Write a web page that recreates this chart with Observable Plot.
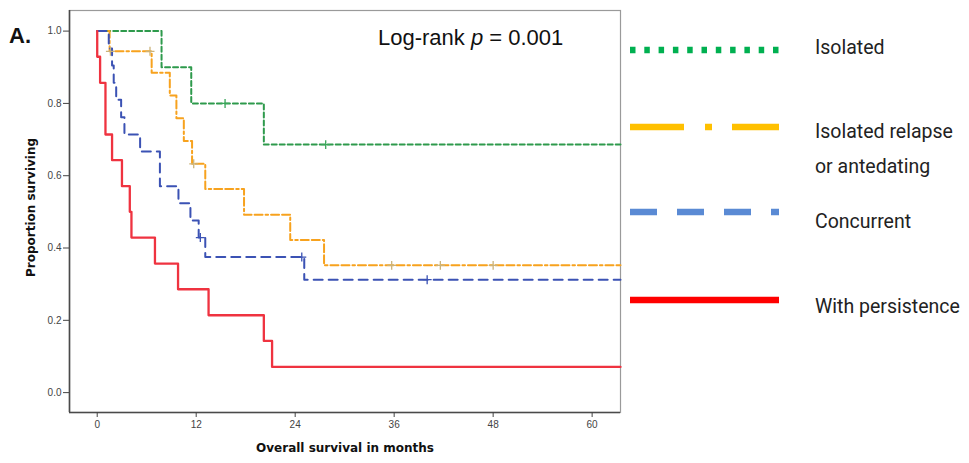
<!DOCTYPE html>
<html><head><meta charset="utf-8">
<script src="https://cdn.jsdelivr.net/npm/d3@7"></script>
<script src="https://cdn.jsdelivr.net/npm/@observablehq/plot@0.6"></script>
<style>
body{margin:0;background:#fff;}
#chart{width:969px;height:463px;}
</style></head><body><div id="chart"></div>
<script>
// ---- data ----
const groupNames = ["Isolated", "Isolated relapse or antedating", "Concurrent", "With persistence"];
const legendText = [["Isolated"], ["Isolated relapse", "or antedating"], ["Concurrent"], ["With persistence"]];

const isolatedTimes = [7.8, 11.4, 20.2];
const isolatedSurv  = [0.900, 0.800, 0.686];
const isolatedCensT = [15.5, 27.7];

const relapseTimes = [1.5, 6.6, 8.8, 9.6, 10.5, 11.5, 13.1, 17.8, 23.4, 27.5];
const relapseSurv  = [0.944, 0.885, 0.822, 0.759, 0.696, 0.633, 0.563, 0.492, 0.422, 0.352];
const relapseCensT = [1.6, 6.4, 11.7, 35.7, 41.6, 48.0];

const concurrentTimes = [1.4, 1.8, 2.0, 2.3, 2.9, 3.3, 5.2, 7.6, 9.85, 11.3, 12.3, 13.1, 25.1];
const concurrentSurv  = [0.952, 0.905, 0.857, 0.810, 0.762, 0.714, 0.667, 0.571, 0.524, 0.476, 0.429, 0.375, 0.3125];
const concurrentCensT = [12.5, 24.8, 40.0];

const persistTimes = [0, 0.35, 1.0, 1.8, 3.0, 3.95, 4.15, 7.0, 9.8, 13.5, 20.2, 21.2];
const persistSurv  = [0.929, 0.857, 0.714, 0.643, 0.571, 0.500, 0.429, 0.357, 0.286, 0.214, 0.143, 0.071];
const persistCensT = [];

const xTicks = [0, 12, 24, 36, 48, 60];
const yTicks = [0, 0.2, 0.4, 0.6, 0.8, 1.0];
const xDomain = [-3.36, 63.44];
const yDomain = [-0.055, 1.057];

// ---- styles ----
const lineColors   = ["#2e9a4c", "#f7a21e", "#3b52b4", "#ef3340"];
const lineWidths   = [2, 2, 2, 2.3];
const censColors   = ["#3aa65a", "#cbb37a", "#3b52b4", "#ef3340"];
const lineDashes   = ["5,3", "8,3,8,3,2.5,3", "9,6", null];
const legendColors = ["#00b050", "#ffc000", "#5a8ad4", "#ff0000"];
const legendDashes = ["5.5,8.8", "54,21,7,20,60", "27,20", null];

// ---- build step data ----
const raw = [
  [isolatedTimes, isolatedSurv, isolatedCensT],
  [relapseTimes, relapseSurv, relapseCensT],
  [concurrentTimes, concurrentSurv, concurrentCensT],
  [persistTimes, persistSurv, persistCensT]
];
function survAt(times, surv, t) {
  let s = 1;
  for (let i = 0; i < times.length; i++) if (times[i] <= t) s = surv[i];
  return s;
}
const series = raw.map(([times, surv, cens], i) => {
  const pts = [{t: 0, s: 1}];
  times.forEach((t, j) => pts.push({t, s: surv[j]}));
  pts.push({t: xDomain[1], s: surv[surv.length - 1]});
  const cpts = cens.map(t => ({t, s: survAt(times, surv, t)}));
  return {name: groupNames[i], pts, cpts};
});

const marks = [
  Plot.frame({stroke: "#9a9a9a", strokeWidth: 1.2}),
  Plot.ruleX([xDomain[0]], {stroke: "#4a4a4a", strokeWidth: 1.6}),
  Plot.ruleY([yDomain[0]], {stroke: "#4a4a4a", strokeWidth: 1.6}),
  Plot.axisX({ticks: xTicks, tickSize: 5, tickPadding: 3, label: null, fontSize: 10}),
  Plot.axisY({ticks: yTicks, tickSize: 6, tickPadding: 2, label: null, fontSize: 10, tickFormat: d3.format(".1f")}),
  Plot.text(["Proportion surviving"], {frameAnchor: "left", textAnchor: "middle", dx: -38, dy: -4, rotate: -90, fontWeight: "bold", fontSize: 12, fontFamily: "DejaVu Sans", fill: "#111"}),
  Plot.text(["Overall survival in months"], {frameAnchor: "bottom", dy: 39, fontWeight: "bold", fontSize: 12, fontFamily: "DejaVu Sans", fill: "#111"})
];
series.forEach((sr, i) => {
  const opts = {x: "t", y: "s", stroke: lineColors[i], strokeWidth: lineWidths[i], curve: "step-after"};
  if (lineDashes[i]) opts.strokeDasharray = lineDashes[i];
  marks.push(Plot.line(sr.pts, opts));
});
series.forEach((sr, i) => {
  if (sr.cpts.length) marks.push(Plot.dot(sr.cpts, {x: "t", y: "s", symbol: "plus", r: 3, stroke: censColors[i], strokeWidth: 1.3}));
});

const chart = Plot.plot({
  width: 969, height: 463,
  marginLeft: 69, marginRight: 349, marginTop: 10, marginBottom: 51,
  x: {domain: xDomain},
  y: {domain: yDomain},
  style: {fontFamily: "Liberation Sans", fontSize: "10px", color: "#444", background: "#fff", overflow: "visible"},
  marks
});
document.getElementById("chart").appendChild(chart);

// ---- annotations & legend ----
const svg = d3.select(chart);
svg.append("text").attr("x", 9).attr("y", 43).attr("text-anchor", "start").attr("font-family", "Liberation Sans").attr("font-weight", "bold")
  .attr("font-size", 22).attr("fill", "#111").text("A.");
const lr = svg.append("text").attr("x", 378).attr("y", 45).attr("text-anchor", "start").attr("font-family", "Liberation Sans")
  .attr("font-size", 22).attr("fill", "#111");
lr.append("tspan").text("Log-rank ");
lr.append("tspan").attr("font-style", "italic").text("p");
lr.append("tspan").text(" = 0.001");

const legY = [50, 127, 212, 300];
const legTextY = [[54], [137.5, 173], [228], [312.5]];
const lg = svg.append("g").attr("text-anchor", "start");
groupNames.forEach((g, i) => {
  const ln = lg.append("line").attr("x1", 630).attr("x2", 779).attr("y1", legY[i]).attr("y2", legY[i])
    .attr("stroke", legendColors[i]).attr("stroke-width", 6.5);
  if (legendDashes[i]) ln.attr("stroke-dasharray", legendDashes[i]);
  legendText[i].forEach((t, k) => {
    lg.append("text").attr("x", 815).attr("y", legTextY[i][k]).attr("text-anchor", "start").attr("font-family", "Roboto")
      .attr("font-size", 19.5).attr("fill", "#222").text(t);
  });
});
</script>
</body></html>
